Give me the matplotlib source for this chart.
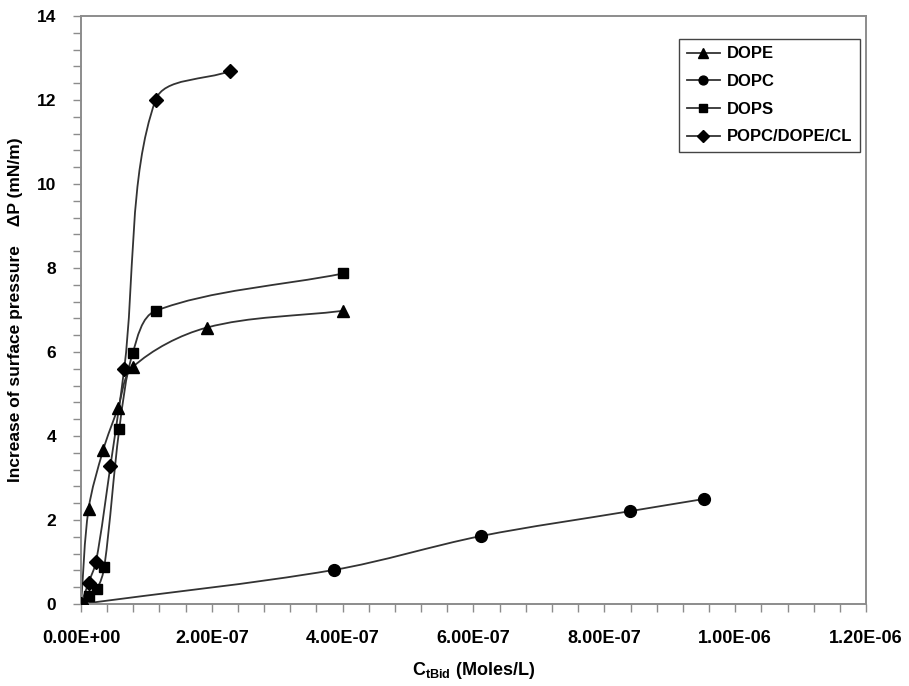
import matplotlib
matplotlib.use("Agg")
from matplotlib import pyplot as plt
from matplotlib.path import Path
from matplotlib.patches import PathPatch
from matplotlib.ticker import MultipleLocator, FuncFormatter
import numpy as np

plt.rcParams["font.family"] = ["Liberation Sans", "DejaVu Sans"]
plt.rcParams["font.weight"] = "bold"
plt.rcParams["mathtext.fontset"] = "custom"
plt.rcParams["mathtext.rm"] = "Liberation Sans:bold"
plt.rcParams["mathtext.it"] = "Liberation Sans:bold"
plt.rcParams["mathtext.bf"] = "Liberation Sans:bold"

# values
dope_x = [0, 1.16e-8, 3.4e-8, 5.66e-8, 7.9e-8, 1.92e-7, 4.0e-7]
dope_y = [0, 2.26, 3.67, 4.67, 5.64, 6.58, 6.98]

dopc_x = [0, 3.86e-7, 6.12e-7, 8.39e-7, 9.52e-7]
dopc_y = [0, 0.81, 1.62, 2.21, 2.50]

dops_x = [0, 1.16e-8, 2.45e-8, 3.56e-8, 5.86e-8, 7.9e-8, 1.14e-7, 4.01e-7]
dops_y = [0, 0.19, 0.36, 0.88, 4.17, 5.97, 6.98, 7.87]

popc_x = [0, 1.16e-8, 2.3e-8, 4.5e-8, 6.6e-8, 1.14e-7, 2.28e-7]
popc_y = [0, 0.51, 1.01, 3.29, 5.59, 12.0, 12.69]

labels = ["DOPE", "DOPC", "DOPS", "POPC/DOPE/CL"]
markers = ["^", "o", "s", "D"]
msizes = [9, 8.5, 7.5, 7.5]

line_color = "#333333"


def smooth_path(ax, xs, ys):
    # excel-like smoothed line, worked out in screen pixels so the
    # tangents scale with the drawn segment lengths
    pts = ax.transData.transform(np.column_stack([xs, ys]).astype(float))
    n = len(pts)
    verts = [pts[0]]
    codes = [Path.MOVETO]
    for i in range(n - 1):
        p1 = pts[i]
        p2 = pts[i + 1]
        d12 = np.hypot(*(p2 - p1))
        if i > 0:
            p0 = pts[i - 1]
            d01 = np.hypot(*(p1 - p0))
            c1 = p1 + (p2 - p0) * d12 / (d01 + d12) / 3.0
        else:
            c1 = p1 + (p2 - p1) / 3.0
        if i + 2 < n:
            p3 = pts[i + 2]
            d23 = np.hypot(*(p3 - p2))
            c2 = p2 - (p3 - p1) * d12 / (d12 + d23) / 3.0
        else:
            c2 = p2 - (p2 - p1) / 3.0
        verts += [c1, c2, p2]
        codes += [Path.CURVE4] * 3
    verts = ax.transData.inverted().transform(np.array(verts))
    return Path(verts, codes)


fig = plt.figure(figsize=(9.09, 6.86), dpi=100)
ax = fig.add_axes([0.0891, 0.1195, 0.8636, 0.8572])
ax.set_xlim(0, 1.2e-6)
ax.set_ylim(0, 14)

series = [(dope_x, dope_y), (dopc_x, dopc_y), (dops_x, dops_y), (popc_x, popc_y)]
for (xs, ys), lab, mk, ms in zip(series, labels, markers, msizes):
    ax.add_patch(PathPatch(smooth_path(ax, xs, ys), facecolor="none",
                           edgecolor=line_color, lw=1.3, zorder=2))
    ax.plot(xs, ys, linestyle="none", marker=mk, ms=ms, color="black", zorder=3)
    # legend proxy
    ax.plot([], [], color=line_color, lw=1.3, marker=mk, ms=ms * 0.75,
            markerfacecolor="black", markeredgecolor="black", label=lab)

ax.xaxis.set_major_locator(MultipleLocator(2e-7))
ax.xaxis.set_minor_locator(MultipleLocator(4e-8))
ax.yaxis.set_major_locator(MultipleLocator(2))
ax.yaxis.set_minor_locator(MultipleLocator(0.4))
ax.xaxis.set_major_formatter(FuncFormatter(lambda v, p: f"{v:.2E}"))
ax.yaxis.set_major_formatter(FuncFormatter(lambda v, p: f"{v:.0f}"))

for s in ax.spines.values():
    s.set_color("#8c8c8c")
    s.set_linewidth(1.4)

ax.tick_params(axis="both", which="both", direction="out", color="#8c8c8c", width=1)
ax.tick_params(axis="both", which="major", length=6)
ax.tick_params(axis="both", which="minor", length=6)
ax.tick_params(axis="x", which="major", labelsize=13, pad=13)
ax.tick_params(axis="y", which="major", labelsize=12.5, pad=12)

ax.set_xlabel(r"C$_{\rm tBid}$ (Moles/L)", fontsize=13, fontweight="bold", labelpad=9)
ax.set_ylabel("Increase of surface pressure    \u0394P (mN/m)", fontsize=12.5,
              fontweight="bold", labelpad=10)

leg = ax.legend(loc="upper right", bbox_to_anchor=(0.992, 0.961), fontsize=12,
                frameon=True, fancybox=False, handlelength=2.0, borderpad=0.45,
                labelspacing=0.76, handletextpad=0.4, borderaxespad=0)
leg.get_frame().set_edgecolor("#444444")
leg.get_frame().set_linewidth(1.0)
leg.get_frame().set_alpha(1)
for t in leg.get_texts():
    t.set_fontweight("bold")

fig.savefig("out.png", dpi=100)
